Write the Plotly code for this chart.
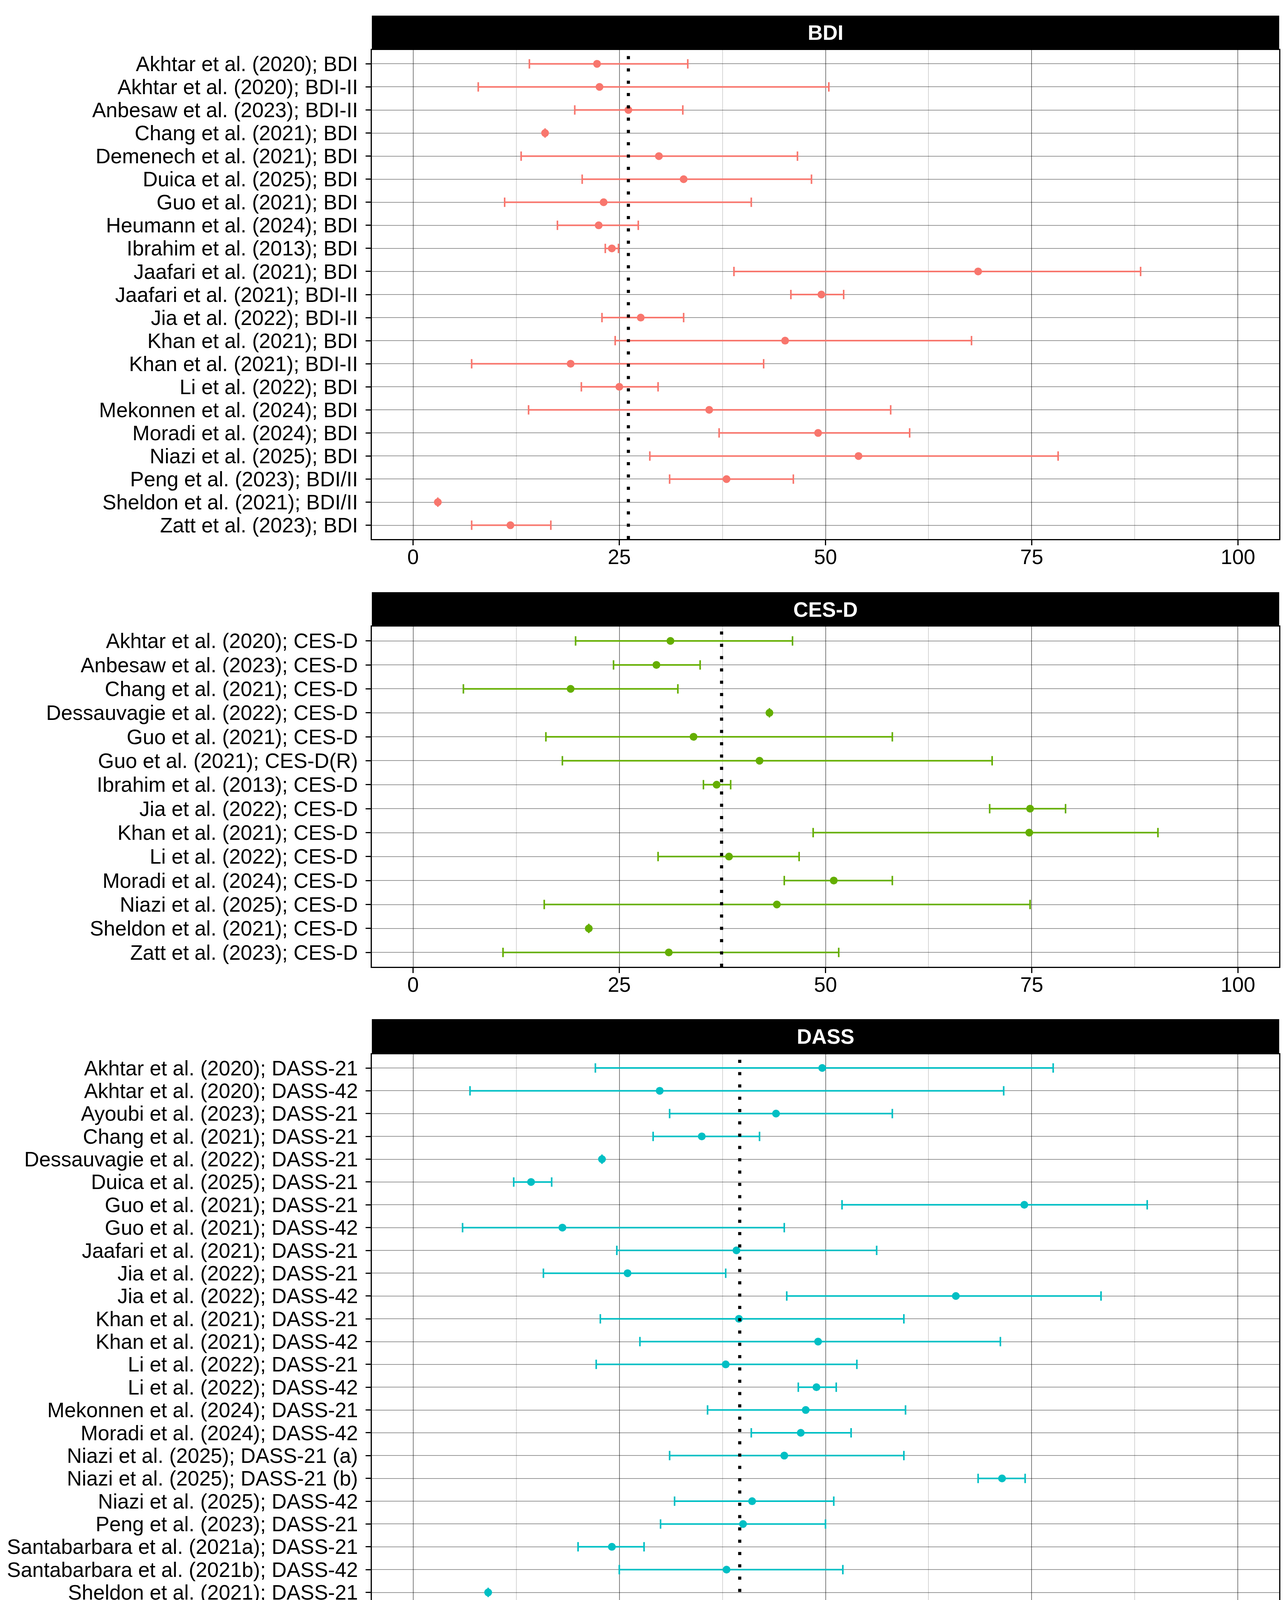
import plotly.graph_objects as go

W, H = 3295, 5848
FONT = "Liberation Sans, Arial, sans-serif"

# ---------------------------------------------------------------
#  Data: prevalence (%) with 95% CI
# ---------------------------------------------------------------
bdi_labels = [
    "Akhtar et al. (2020); BDI", "Akhtar et al. (2020); BDI-II",
    "Anbesaw et al. (2023); BDI-II", "Chang et al. (2021); BDI",
    "Demenech et al. (2021); BDI", "Duica et al. (2025); BDI",
    "Guo et al. (2021); BDI", "Heumann et al. (2024); BDI",
    "Ibrahim et al. (2013); BDI", "Jaafari et al. (2021); BDI",
    "Jaafari et al. (2021); BDI-II", "Jia et al. (2022); BDI-II",
    "Khan et al. (2021); BDI", "Khan et al. (2021); BDI-II",
    "Li et al. (2022); BDI", "Mekonnen et al. (2024); BDI",
    "Moradi et al. (2024); BDI", "Niazi et al. (2025); BDI",
    "Peng et al. (2023); BDI/II", "Sheldon et al. (2021); BDI/II",
    "Zatt et al. (2023); BDI",
]
bdi_est = [22.3, 22.6, 26.1, 16.0, 29.8, 32.8, 23.1, 22.5, 24.1, 68.5, 49.5,
           27.6, 45.1, 19.1, 25.0, 35.9, 49.1, 54.0, 38.0, 3.0, 11.8]
bdi_lo = [14.1, 7.9, 19.6, None, 13.1, 20.5, 11.1, 17.5, 23.3, 38.9, 45.8,
          22.9, 24.5, 7.1, 20.4, 14.0, 37.1, 28.7, 31.1, None, 7.1]
bdi_hi = [33.3, 50.4, 32.7, None, 46.6, 48.3, 41.0, 27.3, 24.9, 88.2, 52.2,
          32.8, 67.7, 42.5, 29.7, 57.9, 60.2, 78.2, 46.1, None, 16.7]
bdi_pooled = 26.1

cesd_labels = [
    "Akhtar et al. (2020); CES-D", "Anbesaw et al. (2023); CES-D",
    "Chang et al. (2021); CES-D", "Dessauvagie et al. (2022); CES-D",
    "Guo et al. (2021); CES-D", "Guo et al. (2021); CES-D(R)",
    "Ibrahim et al. (2013); CES-D", "Jia et al. (2022); CES-D",
    "Khan et al. (2021); CES-D", "Li et al. (2022); CES-D",
    "Moradi et al. (2024); CES-D", "Niazi et al. (2025); CES-D",
    "Sheldon et al. (2021); CES-D", "Zatt et al. (2023); CES-D",
]
cesd_est = [31.2, 29.5, 19.1, 43.2, 34.0, 42.0, 36.8, 74.8, 74.7, 38.3,
            51.0, 44.1, 21.3, 31.0]
cesd_lo = [19.7, 24.3, 6.1, None, 16.1, 18.1, 35.2, 69.9, 48.5, 29.7,
           45.0, 15.9, None, 10.9]
cesd_hi = [46.0, 34.8, 32.1, None, 58.1, 70.2, 38.5, 79.1, 90.3, 46.8,
           58.1, 74.8, None, 51.6]
cesd_pooled = 37.4

dass_labels = [
    "Akhtar et al. (2020); DASS-21", "Akhtar et al. (2020); DASS-42",
    "Ayoubi et al. (2023); DASS-21", "Chang et al. (2021); DASS-21",
    "Dessauvagie et al. (2022); DASS-21", "Duica et al. (2025); DASS-21",
    "Guo et al. (2021); DASS-21", "Guo et al. (2021); DASS-42",
    "Jaafari et al. (2021); DASS-21", "Jia et al. (2022); DASS-21",
    "Jia et al. (2022); DASS-42", "Khan et al. (2021); DASS-21",
    "Khan et al. (2021); DASS-42", "Li et al. (2022); DASS-21",
    "Li et al. (2022); DASS-42", "Mekonnen et al. (2024); DASS-21",
    "Moradi et al. (2024); DASS-42", "Niazi et al. (2025); DASS-21 (a)",
    "Niazi et al. (2025); DASS-21 (b)", "Niazi et al. (2025); DASS-42",
    "Peng et al. (2023); DASS-21", "Santabarbara et al. (2021a); DASS-21",
    "Santabarbara et al. (2021b); DASS-42", "Sheldon et al. (2021); DASS-21",
    "Zatt et al. (2023); DASS-42",
]
dass_est = [49.6, 29.9, 44.0, 35.0, 22.9, 14.3, 74.1, 18.1, 39.2, 26.0,
            65.8, 39.5, 49.1, 37.9, 48.9, 47.6, 47.0, 45.0, 71.4, 41.1,
            40.0, 24.1, 38.0, 9.1, 27.7]
dass_lo = [22.1, 6.9, 31.1, 29.1, None, 12.2, 52.0, 6.0, 24.7, 15.8,
           45.3, 22.7, 27.5, 22.2, 46.7, 35.7, 41.0, 31.1, 68.5, 31.7,
           30.0, 20.0, 25.0, None, 16.5]
dass_hi = [77.6, 71.6, 58.1, 42.0, None, 16.8, 89.0, 45.0, 56.2, 37.9,
           83.4, 59.5, 71.2, 53.8, 51.3, 59.7, 53.1, 59.5, 74.2, 51.0,
           50.0, 28.0, 52.1, None, 39.1]
dass_pooled = 39.6

phq_labels = [
    "Akhtar et al. (2020); PHQ-9", "Ayoubi et al. (2023); PHQ-9",
    "Batra et al. (2021); PHQ-9", "Carvalho et al. (2022); PHQ-9",
    "Chang et al. (2021); PHQ-9", "Dessauvagie et al. (2022); PHQ-9",
    "Duica et al. (2025); PHQ-9", "Guo et al. (2021); PHQ-2",
    "Guo et al. (2021); PHQ-9", "Heumann et al. (2024); PHQ-9",
    "Ibrahim et al. (2013); PHQ-9", "Jia et al. (2022); PHQ-9",
    "Li et al. (2022); PHQ-9", "Mekonnen et al. (2024); PHQ-9",
    "Moradi et al. (2024); PHQ-9", "Niazi et al. (2025); PHQ-9",
    "Peng et al. (2023); PHQ-2", "Peng et al. (2023); PHQ-8/9",
    "Santabarbara et al. (2021a); PHQ-9", "Santabarbara et al. (2021b); PHQ-9",
    "Sheldon et al. (2021); PHQ-9", "Zatt et al. (2023); PHQ-9",
]
phq_est = [12.3, 52.0, 33.9, 69.1, 44.0, 25.1, 64.1, 14.1, 33.0, 24.9,
           47.8, 37.1, 29.1, 41.7, 35.0, 51.1, 27.0, 46.1, 29.0, 38.0,
           4.6, 13.7]
phq_lo = [5.9, 42.0, 18.4, 56.1, 24.1, None, 51.9, 3.0, 23.1, 19.6,
          46.3, 27.4, 18.1, 30.6, 20.0, 14.5, 17.1, 40.1, 18.1, 32.0,
          None, 9.3]
phq_hi = [23.7, 62.1, 54.1, 82.0, 63.1, None, 74.6, 48.1, 45.0, 30.1,
          49.3, 47.5, 40.1, 52.9, 51.1, 87.2, 37.0, 52.1, 41.1, 44.0,
          None, 18.4]
phq_pooled = 34.3

x_ticks = [0, 25, 50, 75, 100]
x_title = "Prevalence of depression (%)"

# ---------------------------------------------------------------
#  Layout (pixel positions measured on the reference)
# ---------------------------------------------------------------
PANEL_X = (944, 3267)
panels = [
    # title, labels, est, lo, hi, pooled, colour, header top, plot top, plot bottom
    ("BDI", bdi_labels, bdi_est, bdi_lo, bdi_hi, bdi_pooled, "#F8766D", 32, 120, 1372),
    ("CES-D", cesd_labels, cesd_est, cesd_lo, cesd_hi, cesd_pooled, "#64AE00", 1508, 1596, 2467),
    ("DASS", dass_labels, dass_est, dass_lo, dass_hi, dass_pooled, "#00BFC4", 2601, 2691, 4162),
    ("PHQ", phq_labels, phq_est, phq_lo, phq_hi, phq_pooled, "#DE7CFB", 4296, 4386, 5696),
]

MAJOR_GRID = "rgba(0,0,0,0.40)"
MINOR_GRID = "rgba(0,0,0,0.16)"


def px_x(p):
    return p / W


def px_y(p):
    return 1 - p / H


fig = go.Figure()
shapes = []
annotations = []
layout_axes = {}

for i, (title, labels, est, lo, hi, pooled, colour, h_top, p_top, p_bot) in enumerate(panels):
    n = i + 1
    xname = "x" if n == 1 else f"x{n}"
    yname = "y" if n == 1 else f"y{n}"
    xkey = "xaxis" if n == 1 else f"xaxis{n}"
    ykey = "yaxis" if n == 1 else f"yaxis{n}"

    plus = [None if h is None else h - e for e, h in zip(est, hi)]
    minus = [None if l is None else e - l for e, l in zip(est, lo)]

    fig.add_trace(go.Scatter(
        x=est, y=labels, mode="markers",
        marker=dict(color=colour, size=20, line=dict(width=0)),
        error_x=dict(type="data", symmetric=False, array=plus, arrayminus=minus,
                     color=colour, thickness=4, width=12),
        xaxis=xname, yaxis=yname, showlegend=False,
    ))

    layout_axes[xkey] = dict(
        domain=[px_x(PANEL_X[0]), px_x(PANEL_X[1])],
        anchor=yname, range=[-5, 105],
        tickmode="array", tickvals=x_ticks, ticktext=[str(t) for t in x_ticks],
        ticks="outside", ticklen=13, tickwidth=2.5, tickcolor="black",
        tickfont=dict(family=FONT, size=53, color="black"),
        ticklabelstandoff=-16,
        showgrid=True, gridcolor=MAJOR_GRID, gridwidth=2,
        minor=dict(tick0=0, dtick=12.5, showgrid=True, gridcolor=MINOR_GRID, gridwidth=2),
        showline=True, linecolor="black", linewidth=3, mirror=True,
        zeroline=False, automargin=False,
    )
    layout_axes[ykey] = dict(
        domain=[px_y(p_bot), px_y(p_top)],
        anchor=xname, type="category",
        categoryorder="array", categoryarray=labels,
        range=[len(labels) - 0.4, -0.6],
        tickmode="array", tickvals=labels, ticktext=labels,
        ticks="outside", ticklen=13, tickwidth=2.5, tickcolor="black",
        tickfont=dict(family=FONT, size=53, color="black"),
        ticklabelstandoff=9,
        showgrid=True, gridcolor=MAJOR_GRID, gridwidth=2,
        showline=True, linecolor="black", linewidth=3, mirror=True,
        zeroline=False, automargin=False,
    )

    # pooled estimate
    shapes.append(dict(
        type="line", xref=xname, yref=f"{yname} domain",
        x0=pooled, x1=pooled, y0=0, y1=1,
        line=dict(color="black", width=8, dash="8px,23.5px"),
    ))
    # facet strip
    shapes.append(dict(
        type="rect", xref="paper", yref="paper",
        x0=px_x(PANEL_X[0]), x1=px_x(PANEL_X[1]),
        y0=px_y(p_top), y1=px_y(h_top),
        fillcolor="black", line=dict(width=0), layer="above",
    ))
    annotations.append(dict(
        text=f"<b>{title}</b>", xref="paper", yref="paper",
        x=px_x((PANEL_X[0] + PANEL_X[1]) / 2), y=px_y((h_top + p_top) / 2),
        xanchor="center", yanchor="middle", showarrow=False,
        font=dict(family=FONT, size=53, color="white"),
    ))

layout_axes["xaxis4"]["title"] = dict(
    text=x_title, font=dict(family=FONT, size=53, color="black"), standoff=22,
)

fig.update_layout(
    width=W, height=H,
    margin=dict(l=0, r=0, t=0, b=0),
    paper_bgcolor="white", plot_bgcolor="white",
    template="none",
    shapes=shapes, annotations=annotations,
    **layout_axes,
)

fig.write_html("out.html")
